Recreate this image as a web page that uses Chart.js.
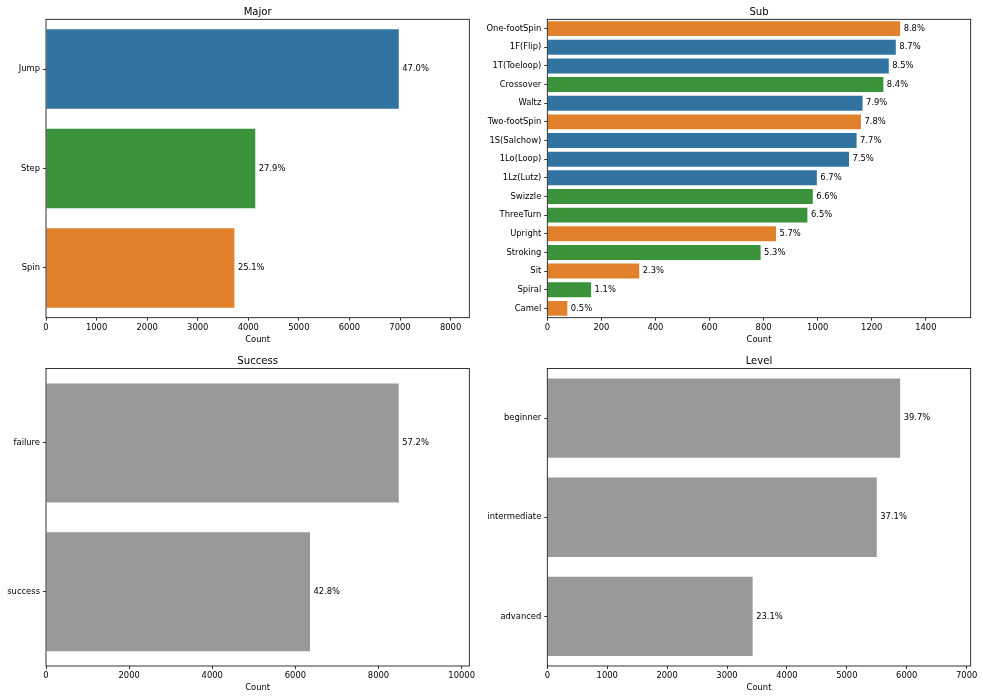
<!DOCTYPE html>
<html><head><meta charset="utf-8">
<script src="https://cdn.jsdelivr.net/npm/chart.js@4.4.0/dist/chart.umd.min.js"></script>
<style>
html,body{margin:0;padding:0;background:#fff;}
#wrap{position:relative;width:983px;height:699px;background:#fff;}
canvas{position:absolute;}
</style></head><body>
<div id="wrap">
<canvas id="cMajor" width="490" height="345" style="left:0px;top:0px;width:490px;height:345px"></canvas>
<canvas id="cSub" width="503" height="345" style="left:480px;top:0px;width:503px;height:345px"></canvas>
<canvas id="cSuccess" width="490" height="354" style="left:0px;top:345px;width:490px;height:354px"></canvas>
<canvas id="cLevel" width="503" height="354" style="left:480px;top:345px;width:503px;height:354px"></canvas>
</div>
<script>
// ---- data ----
const majorLabels = ['Jump', 'Step', 'Spin'];
const majorCounts = [6975, 4138, 3725];
const majorTicks = [0, 1000, 2000, 3000, 4000, 5000, 6000, 7000, 8000];

const subLabels = ['One-footSpin', '1F(Flip)', '1T(Toeloop)', 'Crossover', 'Waltz', 'Two-footSpin',
  '1S(Salchow)', '1Lo(Loop)', '1Lz(Lutz)', 'Swizzle', 'ThreeTurn', 'Upright', 'Stroking', 'Sit', 'Spiral', 'Camel'];
const subCounts = [1305, 1289, 1263, 1243, 1166, 1160, 1144, 1116, 997, 982, 962, 846, 789, 340, 162, 74];
const subMajor = ['Spin', 'Jump', 'Jump', 'Step', 'Jump', 'Spin', 'Jump', 'Jump', 'Jump', 'Step', 'Step',
  'Spin', 'Step', 'Spin', 'Step', 'Spin'];
const subTicks = [0, 200, 400, 600, 800, 1000, 1200, 1400];

const successLabels = ['failure', 'success'];
const successCounts = [8487, 6351];
const successTicks = [0, 2000, 4000, 6000, 8000, 10000];

const levelLabels = ['beginner', 'intermediate', 'advanced'];
const levelCounts = [5890, 5500, 3428];
const levelTicks = [0, 1000, 2000, 3000, 4000, 5000, 6000, 7000];

// ---- styles ----
const palette = { Jump: '#3274a1', Step: '#3a923a', Spin: '#e1812c' };
const grayBar = '#999999';
const FONT = 'DejaVu Sans';
const TICK_SIZE = 8.4;
const TITLE_SIZE = 10.1;

const framePlugin = {
  id: 'frame',
  afterDraw(chart) {
    const a = chart.chartArea, ctx = chart.ctx;
    ctx.save();
    ctx.strokeStyle = '#000';
    ctx.lineWidth = 0.8;
    ctx.strokeRect(a.left, a.top, a.right - a.left, a.bottom - a.top);
    ctx.restore();
  }
};
const labelPlugin = {
  id: 'pctLabels',
  afterDatasetsDraw(chart) {
    const ctx = chart.ctx;
    const data = chart.data.datasets[0].data;
    const total = data.reduce((s, v) => s + v, 0);
    const meta = chart.getDatasetMeta(0);
    ctx.save();
    ctx.font = TICK_SIZE + 'px "' + FONT + '"';
    ctx.fillStyle = '#000';
    ctx.textAlign = 'left';
    ctx.textBaseline = 'middle';
    meta.data.forEach((el, i) => {
      const pct = (data[i] / total * 100).toFixed(1) + '%';
      ctx.fillText(pct, el.x + 3.5, el.y);
    });
    ctx.restore();
  }
};
const titlePlugin = {
  id: 'axTitle',
  afterDraw(chart, args, opts) {
    const a = chart.chartArea, ctx = chart.ctx;
    ctx.save();
    ctx.font = TITLE_SIZE + 'px "' + FONT + '"';
    ctx.fillStyle = '#000';
    ctx.textAlign = 'center';
    ctx.textBaseline = 'alphabetic';
    ctx.fillText(opts.text, (a.left + a.right) / 2, a.top - 4.6);
    ctx.restore();
  }
};

function makeChart(id, title, labels, counts, colors, tickValues, yW, xH, pad) {
  const tickFont = { family: FONT, size: TICK_SIZE };
  return new Chart(document.getElementById(id), {
    type: 'bar',
    data: {
      labels: labels,
      datasets: [{ data: counts, backgroundColor: colors, borderWidth: 0, barPercentage: 0.8, categoryPercentage: 1.0 }]
    },
    options: {
      indexAxis: 'y',
      responsive: false,
      animation: false,
      devicePixelRatio: 1,
      layout: { padding: pad },
      plugins: { legend: { display: false }, tooltip: { enabled: false }, title: { display: false }, axTitle: { text: title } },
      scales: {
        x: {
          type: 'linear', min: 0, max: Math.max(...counts) * 1.2,
          afterBuildTicks(s) { s.ticks = tickValues.map(v => ({ value: v })); },
          ticks: { font: tickFont, color: '#000', padding: 2, maxRotation: 0, autoSkip: false, callback: v => String(v) },
          grid: { drawOnChartArea: false, drawTicks: true, tickLength: 3, tickColor: '#000', tickWidth: 0.8 },
          border: { display: false },
          title: { display: true, text: 'Count', font: tickFont, color: '#000', padding: 0 },
          afterFit(s) { s.height = xH; }
        },
        y: {
          type: 'category', offset: true,
          ticks: { font: tickFont, color: '#000', padding: 3, autoSkip: false },
          grid: { offset: false, drawOnChartArea: false, drawTicks: true, tickLength: 3, tickColor: '#000', tickWidth: 0.8 },
          border: { display: false },
          afterFit(s) { s.width = yW; }
        }
      }
    },
    plugins: [framePlugin, labelPlugin, titlePlugin]
  });
}

makeChart('cMajor', 'Major', majorLabels, majorCounts, majorLabels.map(m => palette[m]), majorTicks,
  46, 27.3, { left: 0, right: 20.7, top: 19.3, bottom: 0 });
makeChart('cSub', 'Sub', subLabels, subCounts, subMajor.map(m => palette[m]), subTicks,
  67.3, 27.3, { left: 0, right: 12.3, top: 19.3, bottom: 0 });
makeChart('cSuccess', 'Success', successLabels, successCounts, successLabels.map(() => grayBar), successTicks,
  46, 26.7, { left: 0, right: 20.7, top: 23.5, bottom: 6.3 });
makeChart('cLevel', 'Level', levelLabels, levelCounts, levelLabels.map(() => grayBar), levelTicks,
  67.3, 26.7, { left: 0, right: 12.3, top: 23.5, bottom: 6.3 });
</script>
</body></html>
